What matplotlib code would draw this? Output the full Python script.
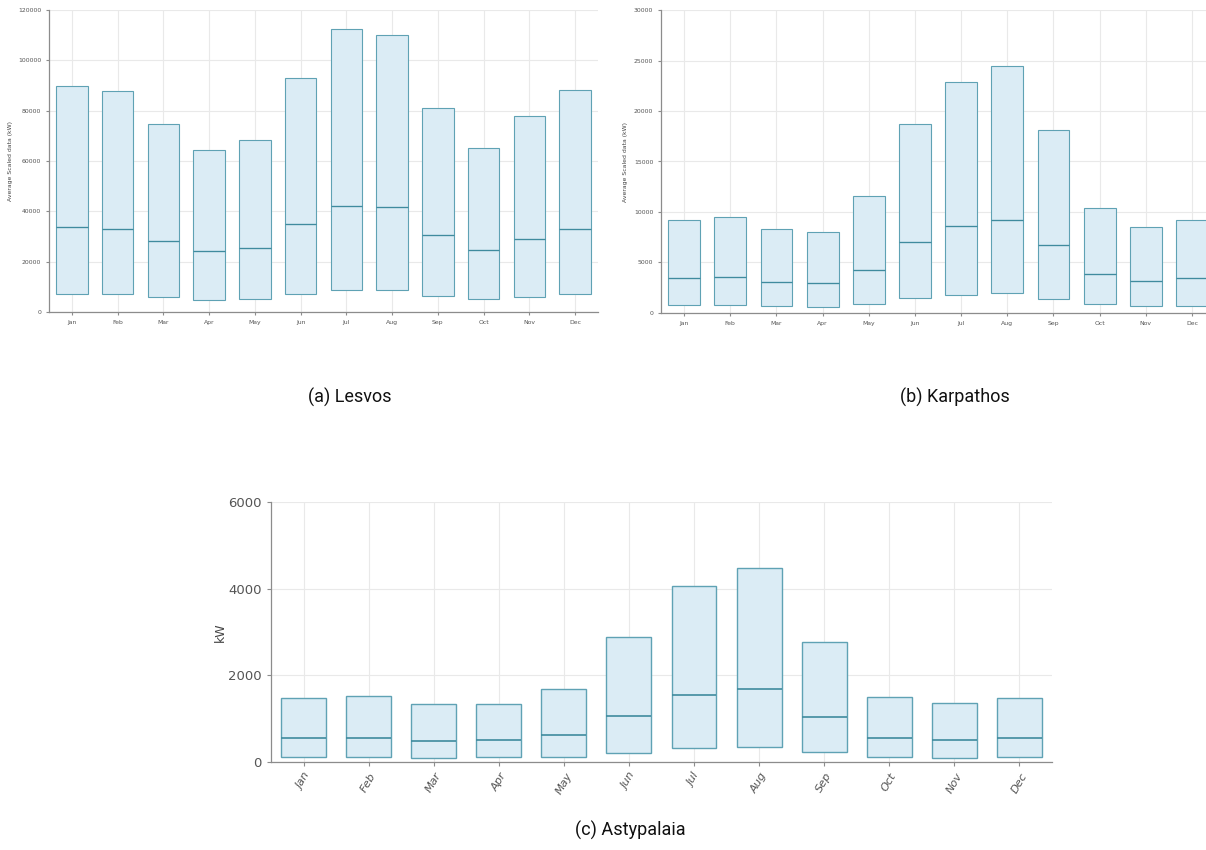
import matplotlib
matplotlib.use("Agg")
import matplotlib.pyplot as plt
import numpy as np

months = ["Jan", "Feb", "Mar", "Apr", "May", "Jun",
          "Jul", "Aug", "Sep", "Oct", "Nov", "Dec"]

# Lesvos (kW): lower bound, median, upper bound per month
lesvos_low = [7000, 7000, 6000, 4900, 5300, 7300, 8700, 8700, 6400, 5300, 6000, 7000]
lesvos_mid = [33700, 32900, 28200, 24100, 25400, 35100, 42300, 41700, 30600, 24500, 29000, 32900]
lesvos_high = [89800, 87700, 74800, 64300, 68300, 93000, 112600, 110200, 81200, 65200, 77700, 88200]

# Karpathos (kW)
karpathos_low = [760, 760, 660, 560, 890, 1450, 1780, 1940, 1410, 860, 720, 720]
karpathos_mid = [3420, 3550, 3060, 2990, 4280, 7040, 8590, 9210, 6780, 3880, 3160, 3420]
karpathos_high = [9210, 9540, 8290, 8060, 11610, 18750, 22830, 24470, 18160, 10430, 8490, 9210]

# Astypalaia (kW)
astypalaia_low = [115, 115, 92, 115, 115, 207, 330, 352, 230, 115, 92, 115]
astypalaia_mid = [552, 552, 483, 506, 621, 1065, 1540, 1678, 1042, 552, 506, 552]
astypalaia_high = [1471, 1517, 1333, 1333, 1678, 2881, 4061, 4483, 2759, 1494, 1356, 1471]

FILL = "#dbecf5"
EDGE = "#5fa2b4"
MID = "#3f8b9e"
GRID = "#e9e9e9"
SPINE = "#8c8c8c"
TICKC = "#555555"


def box_panel(ax, low, mid, high, ymax, ystep, tick_fs, ylabel, ylabel_fs,
              rotate=False, lw=1.0, labelpad=4):
    x = np.arange(len(months))
    low = np.asarray(low, float)
    mid = np.asarray(mid, float)
    high = np.asarray(high, float)
    width = 0.69
    ax.bar(x, high - low, bottom=low, width=width, color=FILL,
           edgecolor=EDGE, linewidth=lw, zorder=3)
    ax.hlines(mid, x - width / 2, x + width / 2, color=MID,
              linewidth=lw * 1.2, zorder=4)
    ax.set_xlim(-0.5, len(months) - 0.5)
    ax.set_ylim(0, ymax)
    ax.set_yticks(np.arange(0, ymax + 1, ystep))
    ax.set_xticks(x)
    if rotate:
        ax.set_xticklabels(months, rotation=60, ha="center", va="top",
                           fontsize=tick_fs * 0.85, color="#666666",
                           style="italic")
    else:
        ax.set_xticklabels(months, fontsize=tick_fs, color=TICKC)
    for lab in ax.get_yticklabels():
        lab.set_fontsize(tick_fs)
        lab.set_color(TICKC)
    ax.grid(True, color=GRID, linewidth=0.8, zorder=0)
    ax.set_axisbelow(True)
    for s in ("top", "right"):
        ax.spines[s].set_visible(False)
    for s in ("left", "bottom"):
        ax.spines[s].set_color(SPINE)
        ax.spines[s].set_linewidth(0.9)
    ax.tick_params(axis="both", colors=SPINE, length=3, width=0.8)
    ax.tick_params(axis="both", labelcolor=TICKC)
    ax.set_ylabel(ylabel, fontsize=ylabel_fs, color="#444444",
                  labelpad=labelpad)


fig = plt.figure(figsize=(12.06, 8.5), dpi=100)
fig.patch.set_facecolor("white")

ax_a = fig.add_axes([0.0406, 0.6329, 0.4553, 0.3553])
box_panel(ax_a, lesvos_low, lesvos_mid, lesvos_high, 120000, 20000,
          4.4, "Average Scaled data (kW)", 4.4, lw=0.8)
ax_a.tick_params(length=2)

ax_b = fig.add_axes([0.5481, 0.6318, 0.4594, 0.3564])
box_panel(ax_b, karpathos_low, karpathos_mid, karpathos_high, 30000, 5000,
          4.4, "Average Scaled data (kW)", 4.4, lw=0.8)
ax_b.tick_params(length=2)

ax_c = fig.add_axes([0.2247, 0.1035, 0.6476, 0.3059])
box_panel(ax_c, astypalaia_low, astypalaia_mid, astypalaia_high, 6000, 2000,
          9.5, "kW", 9, rotate=True, lw=1.0, labelpad=1)

cap_font = dict(fontsize=13, family="Roboto", color="#111111",
                ha="center", va="center")
fig.text(350 / 1206, 1 - 397 / 850, "(a) Lesvos", **cap_font)
fig.text(955 / 1206, 1 - 397 / 850, "(b) Karpathos", **cap_font)
fig.text(630 / 1206, 1 - 830 / 850, "(c) Astypalaia", **cap_font)

fig.savefig("out.png", dpi=100, facecolor="white")
